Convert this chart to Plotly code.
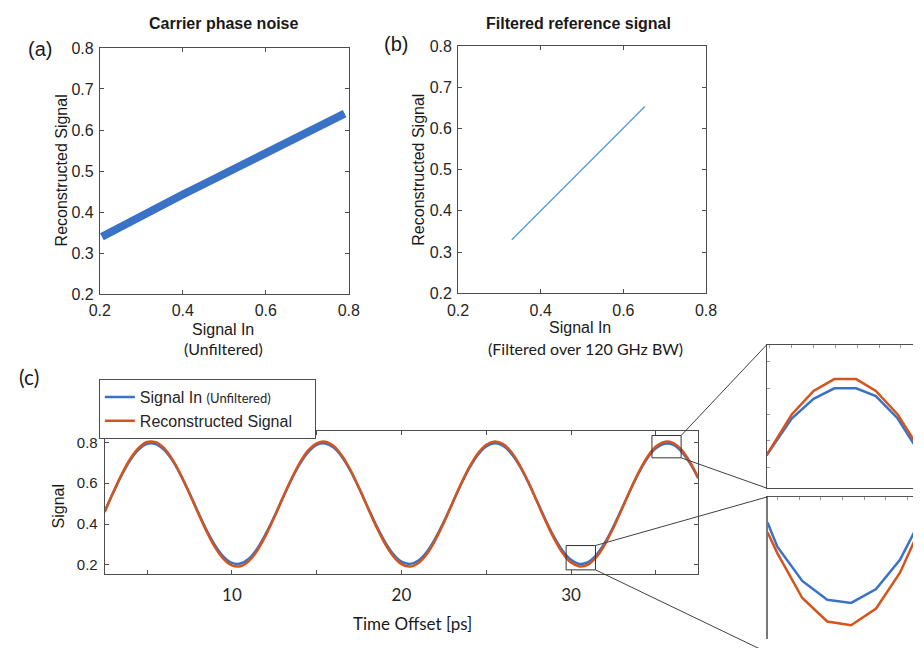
import plotly.graph_objects as go

W, H = 924, 648

# ---------------- data ----------------
# (a) carrier phase noise: reconstructed signal vs unfiltered input
a_signal_in = [0.205, 0.25, 0.30, 0.35, 0.40, 0.45, 0.50, 0.55, 0.60, 0.65, 0.70, 0.75, 0.79]
a_recon = [0.340, 0.365, 0.391, 0.417, 0.443, 0.468, 0.493, 0.517, 0.542, 0.566, 0.591, 0.616, 0.640]

# (b) filtered reference signal
b_signal_in = [0.330, 0.652]
b_recon = [0.330, 0.653]

# (c) time traces, sampled every 0.5 ps from 2.5 ps
t_start, t_step = 2.5, 0.5
c_signal_in = [
    0.463, 0.554, 0.639, 0.712, 0.764, 0.792, 0.791, 0.763, 0.710, 0.636,
    0.550, 0.459, 0.372, 0.297, 0.241, 0.210, 0.207, 0.231, 0.281, 0.353,
    0.437, 0.528, 0.616, 0.693, 0.752, 0.787, 0.794, 0.774, 0.727, 0.659,
    0.575, 0.485, 0.396, 0.317, 0.255, 0.216, 0.205, 0.222, 0.265, 0.331,
    0.412, 0.502, 0.592, 0.673, 0.738, 0.780, 0.795, 0.782, 0.742, 0.680,
    0.600, 0.510, 0.420, 0.337, 0.270, 0.225, 0.205, 0.214, 0.250, 0.310,
    0.388, 0.477, 0.567, 0.652, 0.722, 0.770, 0.793, 0.789, 0.756, 0.699,
    0.624,
]
c_recon = [
    0.459, 0.554, 0.643, 0.718, 0.772, 0.801, 0.800, 0.771, 0.715, 0.639,
    0.550, 0.456, 0.365, 0.287, 0.230, 0.198, 0.194, 0.219, 0.271, 0.345,
    0.433, 0.527, 0.619, 0.699, 0.760, 0.795, 0.803, 0.782, 0.733, 0.663,
    0.576, 0.482, 0.390, 0.308, 0.244, 0.204, 0.192, 0.210, 0.254, 0.322,
    0.407, 0.501, 0.594, 0.678, 0.745, 0.788, 0.804, 0.791, 0.750, 0.684,
    0.602, 0.509, 0.415, 0.329, 0.259, 0.212, 0.193, 0.202, 0.239, 0.301,
    0.382, 0.474, 0.568, 0.655, 0.728, 0.779, 0.802, 0.797, 0.764, 0.705,
    0.626,
]

# zoomed views of the last peak and a trough
peak_time = [34.77, 35.00, 35.20, 35.39, 35.59, 35.77, 35.97, 36.16]
peak_signal_in = [0.749, 0.777, 0.792, 0.800, 0.800, 0.794, 0.777, 0.752]
peak_recon = [0.749, 0.780, 0.798, 0.807, 0.807, 0.798, 0.780, 0.755]

trough_time = [29.71, 29.80, 30.03, 30.26, 30.48, 30.71, 30.93, 31.16]
trough_signal_in = [0.2754, 0.2569, 0.2308, 0.2164, 0.2140, 0.2246, 0.2469, 0.2840]
trough_recon = [0.2680, 0.2520, 0.2177, 0.1998, 0.1969, 0.2097, 0.2370, 0.2790]

# ---------------- styling ----------------
BLUE = "#3a72c8"
RED = "#d4541c"
AX = "#4d4d4d"
TXT = "#262626"
ARIAL = "Liberation Sans, Arial, sans-serif"
CAL = "Lato, Open Sans, sans-serif"


def dom_x(p0, p1):
    return [p0 / W, p1 / W]


def dom_y(p_top, p_bot):
    return [1 - p_bot / H, 1 - p_top / H]


def px(x):
    return x / W


def py(y):
    return 1 - y / H


# axes boxes (pixel extents)
A_BOX = (91, 346, 41, 294)
B_BOX = (458, 712, 39, 293)
C_BOX = (96, 704, 434, 581)
P_BOX = (774, 924, 346, 493)
T_BOX = (775, 924, 502, 648)

C_XR = [2.5, 37.5]
C_YR = [0.157, 0.857]
PEAK_XR = [34.77, 36.11]
PEAK_YR = [0.724, 0.833]
PEAK_BOX_T = [34.77, 36.49]
TROUGH_XR = [29.71, 31.05]
TROUGH_YR = [0.1864, 0.295]
TROUGH_BOX_T = [29.71, 31.44]
TROUGH_BOX_V = [0.176, 0.295]

fig = go.Figure()

fig.add_trace(go.Scatter(x=a_signal_in, y=a_recon, mode="lines",
                         line=dict(color=BLUE, width=8), showlegend=False,
                         xaxis="x", yaxis="y"))
fig.add_trace(go.Scatter(x=b_signal_in, y=b_recon, mode="lines",
                         line=dict(color="#5b9bd5", width=1.4), showlegend=False,
                         xaxis="x2", yaxis="y2"))

fig.add_trace(go.Scatter(x0=t_start, dx=t_step, y=c_signal_in, mode="lines",
                         line=dict(color=BLUE, width=2.5, shape="spline"),
                         name="Signal In <span style='font-family:Lato;font-size:13px'>(Unfiltered)</span>",
                         xaxis="x3", yaxis="y3"))
fig.add_trace(go.Scatter(x0=t_start, dx=t_step, y=c_recon, mode="lines",
                         line=dict(color=RED, width=2.5, shape="spline"),
                         name="Reconstructed Signal&nbsp;&nbsp;&nbsp;&nbsp;",
                         xaxis="x3", yaxis="y3"))

fig.add_trace(go.Scatter(x=peak_time, y=peak_signal_in, mode="lines",
                         line=dict(color=BLUE, width=2.5), showlegend=False,
                         xaxis="x4", yaxis="y4"))
fig.add_trace(go.Scatter(x=peak_time, y=peak_recon, mode="lines",
                         line=dict(color=RED, width=2.5), showlegend=False,
                         xaxis="x4", yaxis="y4"))
fig.add_trace(go.Scatter(x=trough_time, y=trough_signal_in, mode="lines",
                         line=dict(color=BLUE, width=2.5), showlegend=False,
                         xaxis="x5", yaxis="y5"))
fig.add_trace(go.Scatter(x=trough_time, y=trough_recon, mode="lines",
                         line=dict(color=RED, width=2.5), showlegend=False,
                         xaxis="x5", yaxis="y5"))

common = dict(showline=True, linecolor=AX, linewidth=1, mirror="ticks",
              ticks="inside", ticklen=4, tickcolor=AX, showgrid=False,
              zeroline=False, tickfont=dict(family=ARIAL, size=16, color=TXT))

scatter_x = dict(common, range=[0.2, 0.8], tickvals=[0.2, 0.4, 0.6, 0.8],
                 ticktext=["0.2", "0.4", "0.6", "0.8"], ticklabelstandoff=2)
scatter_y = dict(common, range=[0.2, 0.8],
                 tickvals=[0.2, 0.3, 0.4, 0.5, 0.6, 0.7, 0.8],
                 ticktext=["0.2", "0.3", "0.4", "0.5", "0.6", "0.7", "0.8"],
                 ticklabelstandoff=2)

fig.update_layout(
    width=W, height=H, margin=dict(l=0, r=0, t=0, b=0),
    paper_bgcolor="white", plot_bgcolor="white",
    xaxis=dict(scatter_x, domain=dom_x(A_BOX[0], A_BOX[1]), anchor="y"),
    yaxis=dict(scatter_y, domain=dom_y(A_BOX[2], A_BOX[3]), anchor="x"),
    xaxis2=dict(scatter_x, domain=dom_x(B_BOX[0], B_BOX[1]), anchor="y2"),
    yaxis2=dict(scatter_y, domain=dom_y(B_BOX[2], B_BOX[3]), anchor="x2"),
    xaxis3=dict(common, domain=dom_x(C_BOX[0], C_BOX[1]), anchor="y3",
                range=C_XR, tickvals=[5, 10, 15, 20, 25, 30, 35],
                ticktext=["", "10", "", "20", "", "30", ""],
                tickfont=dict(family=CAL, size=17, color=TXT), ticklabelstandoff=6),
    yaxis3=dict(common, domain=dom_y(C_BOX[2], C_BOX[3]), anchor="x3",
                range=C_YR, tickvals=[0.2, 0.4, 0.6, 0.8],
                ticktext=["0.2", "0.4", "0.6", "0.8"],
                tickfont=dict(family=ARIAL, size=15, color=TXT),
                ticklabelstandoff=3),
    xaxis4=dict(showline=True, linecolor=AX, linewidth=1, mirror=True,
                ticks="inside", ticklen=3, tickcolor="#999", showgrid=False,
                zeroline=False, showticklabels=False, side="top",
                domain=dom_x(P_BOX[0], P_BOX[1]), anchor="y4", range=PEAK_XR,
                dtick=0.2),
    yaxis4=dict(showline=True, linecolor=AX, linewidth=1, mirror=False,
                ticks="inside", ticklen=3, tickcolor="#999", showgrid=False,
                zeroline=False, showticklabels=False,
                domain=dom_y(P_BOX[2], P_BOX[3]), anchor="x4", range=PEAK_YR,
                dtick=0.02),
    xaxis5=dict(showline=True, linecolor="#555", linewidth=1.2, mirror=False,
                ticks="inside", ticklen=3, tickcolor="#999", showgrid=False,
                zeroline=False, showticklabels=False, side="top",
                domain=dom_x(T_BOX[0], T_BOX[1]), anchor="y5", range=TROUGH_XR,
                dtick=0.2),
    yaxis5=dict(showline=True, linecolor="#777", linewidth=1.6, mirror=False,
                ticks="", showgrid=False, zeroline=False, showticklabels=False,
                domain=[0, 1 - T_BOX[2] / H], anchor="x5", range=TROUGH_YR),
    legend=dict(x=px(90), y=py(381), xanchor="left", yanchor="top",
                bordercolor=AX, borderwidth=1, bgcolor="white",
                font=dict(family=ARIAL, size=16, color=TXT),
                tracegroupgap=0, itemwidth=30),
)


# pixel position of a point on the time-trace axes
def c_px(t, v):
    x = C_BOX[0] + (t - C_XR[0]) / (C_XR[1] - C_XR[0]) * (C_BOX[1] - C_BOX[0])
    y = C_BOX[3] - (v - C_YR[0]) / (C_YR[1] - C_YR[0]) * (C_BOX[3] - C_BOX[2])
    return x, y


shapes = []
# zoom boxes on the time traces
for xr, yr in [(PEAK_BOX_T, PEAK_YR), (TROUGH_BOX_T, TROUGH_BOX_V)]:
    shapes.append(dict(type="rect", xref="x3", yref="y3",
                       x0=xr[0], x1=xr[1], y0=yr[0], y1=yr[1],
                       line=dict(color="#333", width=1)))

# connectors from zoom boxes to the enlarged views
links = [
    (c_px(PEAK_BOX_T[1], PEAK_YR[1]), (P_BOX[0], P_BOX[2])),
    (c_px(PEAK_BOX_T[1], PEAK_YR[0]), (P_BOX[0], P_BOX[3])),
    (c_px(TROUGH_BOX_T[1], TROUGH_BOX_V[1]), (T_BOX[0], T_BOX[2])),
    (c_px(TROUGH_BOX_T[1], TROUGH_BOX_V[0]), (T_BOX[0], 662)),
]
for (xa, ya), (xb, yb) in links:
    shapes.append(dict(type="line", xref="paper", yref="paper",
                       x0=px(xa), y0=py(ya), x1=px(xb), y1=py(yb),
                       line=dict(color="#404040", width=1)))

fig.update_layout(shapes=shapes)


def note(text, x, y, size, family=ARIAL, angle=0, bold=False, xanchor="center"):
    if bold:
        text = "<b>" + text + "</b>"
    fig.add_annotation(text=text, x=px(x), y=py(y), xref="paper", yref="paper",
                       showarrow=False, textangle=angle, xanchor=xanchor,
                       yanchor="middle",
                       font=dict(family=family, size=size, color="#1a1a1a"))


note("Carrier phase noise", 218, 16, 16, bold=True)
note("Filtered reference signal", 581, 16, 16, bold=True)
note("(a)", 30, 42, 20)
note("(b)", 394, 37, 20)
note("(c)", 18, 378, 21, family=CAL)
note("Reconstructed Signal", 52, 167, 16, angle=-90)
note("Reconstructed Signal", 418, 166, 16, angle=-90)
note("Signal", 49, 512, 16, angle=-90)
note("Signal In", 217, 330, 16)
note("(Unfiltered)", 218, 350, 16, family=CAL)
note("Signal In", 583, 328, 16)
note("(Filtered over 120 GHz BW)", 588, 350, 16, family=CAL)
note("Time Offset [ps]", 411, 632, 17, family=CAL)

fig.write_html("out.html")
